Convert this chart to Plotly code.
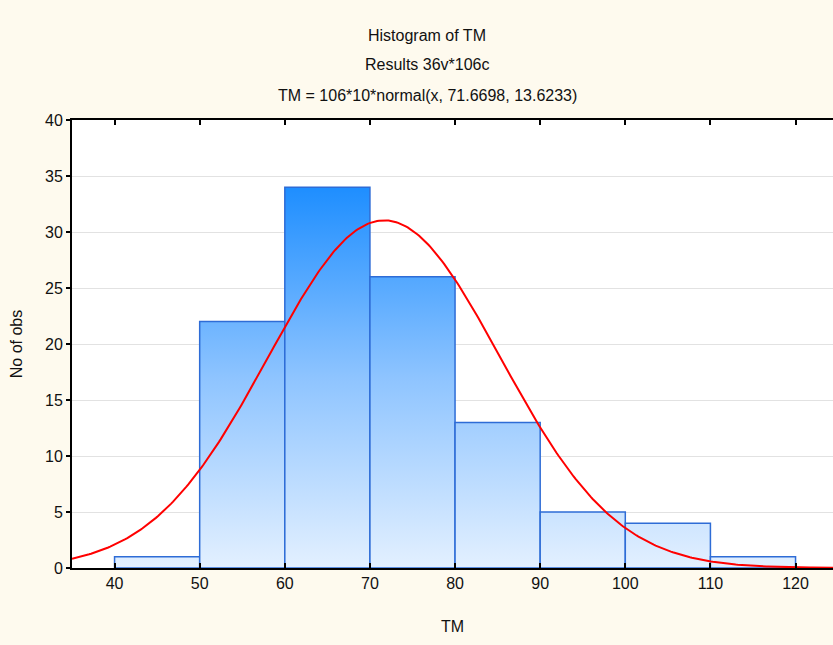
import numpy as np
import plotly.graph_objects as go

# Histogram of TM: bin edges and observed counts per bin
bin_edges = [40, 50, 60, 70, 80, 90, 100, 110, 120]
counts = [1, 22, 34, 26, 13, 5, 4, 1]

# Fitted normal curve parameters
n_obs = 106
bin_width = 10
mu = 71.6698
sigma = 13.6233

x_range = [35, 124.4]
y_ticks = [0, 5, 10, 15, 20, 25, 30, 35, 40]
x_ticks = [40, 50, 60, 70, 80, 90, 100, 110, 120]

FONT = "Liberation Sans, Arial, sans-serif"
BG = "#FEFAEE"
EDGE = "#2E6CD6"

fig = go.Figure()

# Bars drawn as filled polygons so the fill can carry a vertical gradient
for i, c in enumerate(counts):
    x0, x1 = bin_edges[i], bin_edges[i + 1]
    fig.add_trace(go.Scatter(
        x=[x0, x0, x1, x1, x0],
        y=[0, c, c, 0, 0],
        mode="lines",
        fill="toself",
        fillgradient=dict(
            type="vertical",
            colorscale=[[0, "#E3F0FF"], [0.5, "#8EC4FF"], [1, "#1E8EFF"]],
            start=0,
            stop=max(counts),
        ),
        line=dict(color=EDGE, width=1.5),
        hoverinfo="skip",
        showlegend=False,
    ))

# Expected counts from the normal fit
xs = np.linspace(x_range[0], x_range[1], 400)
ys = n_obs * bin_width * np.exp(-0.5 * ((xs - mu) / sigma) ** 2) / (sigma * np.sqrt(2 * np.pi))
fig.add_trace(go.Scatter(
    x=xs, y=ys, mode="lines",
    line=dict(color="#FF0000", width=2),
    hoverinfo="skip", showlegend=False,
))

titles = [
    ("Histogram of TM", 35),
    ("Results 36v*106c", 65),
    ("TM = 106*10*normal(x, 71.6698, 13.6233)", 95),
]
for text, ypix in titles:
    fig.add_annotation(
        text=text, xref="paper", yref="paper",
        x=(427 - 72) / 761, y=1 + (120 - ypix) / 448,
        xanchor="center", yanchor="middle", showarrow=False,
        font=dict(family=FONT, size=16, color="#111111"),
    )

fig.update_layout(
    width=833, height=645,
    margin=dict(l=72, r=0, t=120, b=77),
    paper_bgcolor=BG,
    plot_bgcolor="#FFFFFF",
    font=dict(family=FONT, size=16, color="#111111"),
    xaxis=dict(
        range=x_range,
        tickvals=x_ticks,
        ticks="inside", ticklen=5, tickwidth=2, tickcolor="#000000",
        showline=True, linecolor="#000000", linewidth=2, mirror="ticks",
        showgrid=False, zeroline=False,
        title=dict(text="TM", standoff=30, font=dict(size=16)),
    ),
    yaxis=dict(
        range=[0, 40],
        tickvals=y_ticks,
        ticks="outside", ticklen=4, tickwidth=2, tickcolor="#000000",
        showline=True, linecolor="#000000", linewidth=2,
        showgrid=True, gridcolor="#E2E2E2", gridwidth=1,
        zeroline=False,
        title=dict(text="No of obs", standoff=18, font=dict(size=16)),
    ),
)

fig.write_html("out.html")
